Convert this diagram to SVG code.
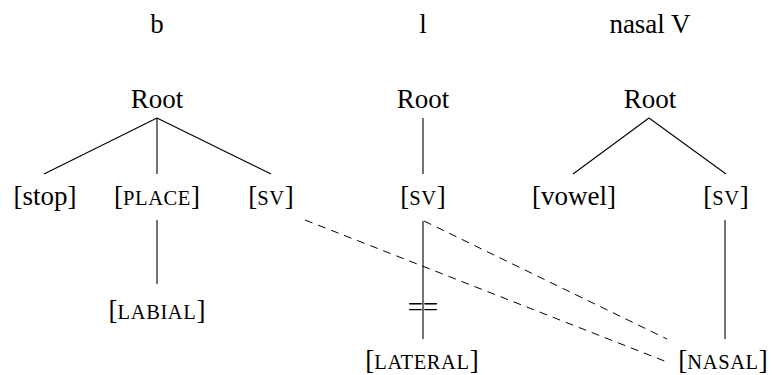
<svg xmlns="http://www.w3.org/2000/svg" width="772" height="375" viewBox="0 0 772 375" font-family="'Liberation Serif', Tinos, 'Times New Roman', 'Noto Serif', 'DejaVu Serif', Times, serif">
<style>
text{font-family:'Liberation Serif', Tinos, 'Times New Roman', 'Noto Serif', 'DejaVu Serif', Times, serif;font-size:27px;fill:#000;text-anchor:middle}
.sc{font-size:20.5px;letter-spacing:0.6px}
.edge{stroke:#000;stroke-width:1.1;fill:none}
.dash{stroke:#000;stroke-width:1;fill:none;stroke-dasharray:8 6}
</style>
<rect width="772" height="375" fill="#fff"/>
<g id="headers">
<text x="157" y="33">b</text>
<text x="423" y="33">l</text>
<text x="650" y="33">nasal V</text>
</g>
<g id="connectors">
<line class="edge" x1="157" y1="118" x2="44" y2="174"/>
<line class="edge" x1="157" y1="118" x2="157" y2="174"/>
<line class="edge" x1="157" y1="118" x2="271" y2="174"/>
<line class="edge" x1="157" y1="220" x2="157" y2="284"/>
<line class="edge" x1="423" y1="118" x2="423" y2="174"/>
<line class="edge" x1="423" y1="221" x2="423" y2="339"/>
<line class="edge" x1="649" y1="118" x2="573" y2="174"/>
<line class="edge" x1="649" y1="118" x2="726" y2="174"/>
<line class="edge" x1="725" y1="220" x2="725" y2="339"/>
<line class="dash" x1="305" y1="220" x2="667" y2="362"/>
<line class="dash" x1="424" y1="221" x2="667" y2="339"/>
</g>
<g id="root-b"><text x="157" y="108">Root</text></g>
<g id="stop"><text x="45" y="205">[stop]</text></g>
<g id="place-b"><text x="157" y="205">[<tspan class="sc">PLACE</tspan>]</text></g>
<g id="sv-b"><text x="271" y="205">[<tspan class="sc">SV</tspan>]</text></g>
<g id="labial"><text x="157" y="319">[<tspan class="sc">LABIAL</tspan>]</text></g>
<g id="root-l"><text x="423" y="108">Root</text></g>
<g id="sv-l"><text x="423" y="205">[<tspan class="sc">SV</tspan>]</text></g>
<g id="delink"><text x="423" y="316">==</text></g>
<g id="lateral"><text x="422" y="369">[<tspan class="sc">LATERAL</tspan>]</text></g>
<g id="root-v"><text x="650" y="108">Root</text></g>
<g id="vowel"><text x="574" y="205">[vowel]</text></g>
<g id="sv-v"><text x="726" y="205">[<tspan class="sc">SV</tspan>]</text></g>
<g id="nasal"><text x="723" y="369">[<tspan class="sc">NASAL</tspan>]</text></g>
</svg>
